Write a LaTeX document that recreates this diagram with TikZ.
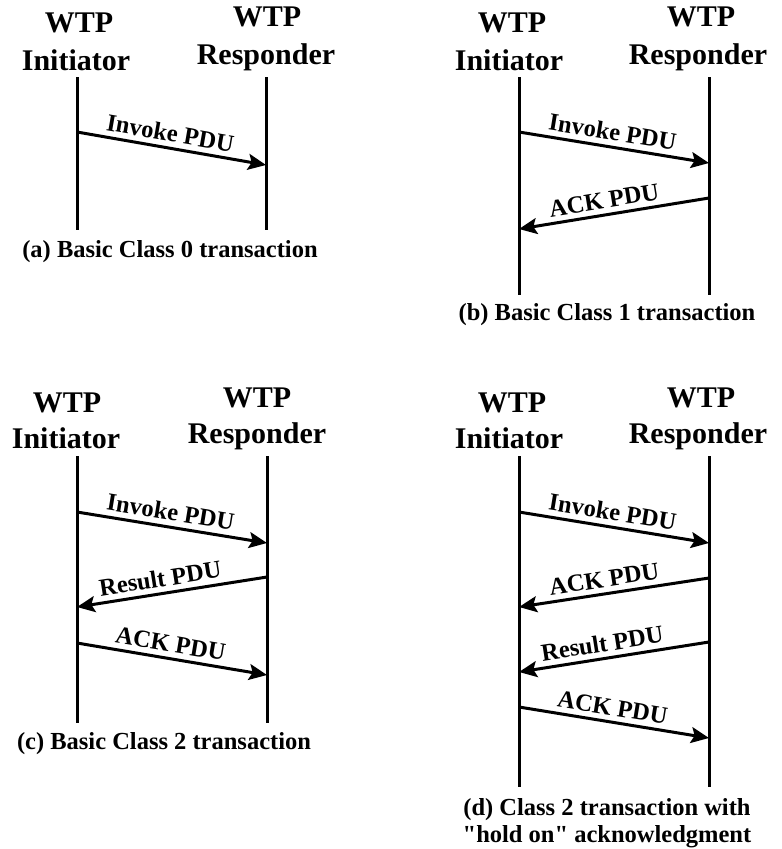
\documentclass[tikz,border=0pt]{standalone}
\usepackage{fontspec}
\setmainfont{Liberation Serif}
% same face without the TeX quote mapping, for straight double quotes
\newfontfamily\straightq{Liberation Serif}
\usetikzlibrary{arrows.meta}
\begin{document}
\begin{tikzpicture}[x=1pt,y=-1pt,
  lifeline/.style={line width=3pt},
  msg/.style={line width=3pt,-{Stealth[length=18pt,width=16pt,inset=3.5pt]}},
  hdr/.style={font=\fontsize{30}{36}\selectfont\bfseries,inner sep=0pt,anchor=base},
  lbl/.style={font=\fontsize{24.5}{29}\selectfont\bfseries,inner sep=0pt,sloped,above=5pt},
  captxt/.style={font=\fontsize{24.5}{30}\selectfont\bfseries,inner sep=0pt,anchor=base}]
\useasboundingbox (0,0) rectangle (782,849);

% ---------- (a) Basic Class 0 ----------
\node[hdr] (aiw) at (79,32) {WTP};
\node[hdr] (aii) at (76,70) {Initiator};
\node[hdr] (arw) at (267,26) {WTP};
\node[hdr] (arr) at (266,64) {Responder};
\coordinate (ait) at (77,77);  \coordinate (aib) at (77,230);
\coordinate (art) at (266,77); \coordinate (arb) at (266,230);
\draw[lifeline] (ait) -- (aib);
\draw[lifeline] (art) -- (arb);
\coordinate (a1s) at (77,132); \coordinate (a1e) at (266,165);
\draw[msg] (a1s) -- node[lbl,pos=0.48] (a1l) {Invoke PDU} (a1e);
\node[captxt] (acap) at (170,257) {(a) Basic Class 0 transaction};

% ---------- (b) Basic Class 1 ----------
\node[hdr] (biw) at (512,32) {WTP};
\node[hdr] (bii) at (509,70) {Initiator};
\node[hdr] (brw) at (701,26) {WTP};
\node[hdr] (brr) at (698,64) {Responder};
\coordinate (bit) at (519,77);  \coordinate (bib) at (519,295);
\coordinate (brt) at (709,77);  \coordinate (brb) at (709,295);
\draw[lifeline] (bit) -- (bib);
\draw[lifeline] (brt) -- (brb);
\coordinate (b1s) at (519,132); \coordinate (b1e) at (709,163);
\draw[msg] (b1s) -- node[lbl,pos=0.48] (b1l) {Invoke PDU} (b1e);
\coordinate (b2s) at (709,198); \coordinate (b2e) at (519,229);
\draw[msg] (b2s) -- node[lbl,pos=0.54] (b2l) {ACK PDU} (b2e);
\node[captxt] (bcap) at (607,320) {(b) Basic Class 1 transaction};

% ---------- (c) Basic Class 2 ----------
\node[hdr] (ciw) at (67,412) {WTP};
\node[hdr] (cii) at (66,448) {Initiator};
\node[hdr] (crw) at (257,407) {WTP};
\node[hdr] (crr) at (257,443) {Responder};
\coordinate (cit) at (77,456);  \coordinate (cib) at (77,723);
\coordinate (crt) at (267,456); \coordinate (crb) at (267,723);
\draw[lifeline] (cit) -- (cib);
\draw[lifeline] (crt) -- (crb);
\coordinate (c1s) at (77,512);  \coordinate (c1e) at (267,543);
\draw[msg] (c1s) -- node[lbl,pos=0.48] (c1l) {Invoke PDU} (c1e);
\coordinate (c2s) at (267,577); \coordinate (c2e) at (77,607);
\draw[msg] (c2s) -- node[lbl,pos=0.55] (c2l) {Result PDU} (c2e);
\coordinate (c3s) at (77,643);  \coordinate (c3e) at (267,675);
\draw[msg] (c3s) -- node[lbl,pos=0.48] (c3l) {ACK PDU} (c3e);
\node[captxt] (ccap) at (164,749) {(c) Basic Class 2 transaction};

% ---------- (d) Class 2 with hold-on ack ----------
\node[hdr] (diw) at (512,412) {WTP};
\node[hdr] (dii) at (509,448) {Initiator};
\node[hdr] (drw) at (701,407) {WTP};
\node[hdr] (drr) at (698,443) {Responder};
\coordinate (dit) at (519,456); \coordinate (dib) at (519,787);
\coordinate (drt) at (709,456); \coordinate (drb) at (709,787);
\draw[lifeline] (dit) -- (dib);
\draw[lifeline] (drt) -- (drb);
\coordinate (d1s) at (519,512); \coordinate (d1e) at (709,543);
\draw[msg] (d1s) -- node[lbl,pos=0.48] (d1l) {Invoke PDU} (d1e);
\coordinate (d2s) at (709,578); \coordinate (d2e) at (519,607);
\draw[msg] (d2s) -- node[lbl,pos=0.54] (d2l) {ACK PDU} (d2e);
\coordinate (d3s) at (709,642); \coordinate (d3e) at (519,672);
\draw[msg] (d3s) -- node[lbl,pos=0.55] (d3l) {Result PDU} (d3e);
\coordinate (d4s) at (519,707); \coordinate (d4e) at (709,738);
\draw[msg] (d4s) -- node[lbl,pos=0.48] (d4l) {ACK PDU} (d4e);
\node[captxt] (dcap1) at (607,815) {(d) Class 2 transaction with};
\node[captxt] (dcap2) at (607,842) {{\straightq"}hold on{\straightq"} acknowledgment};
\end{tikzpicture}
\end{document}
